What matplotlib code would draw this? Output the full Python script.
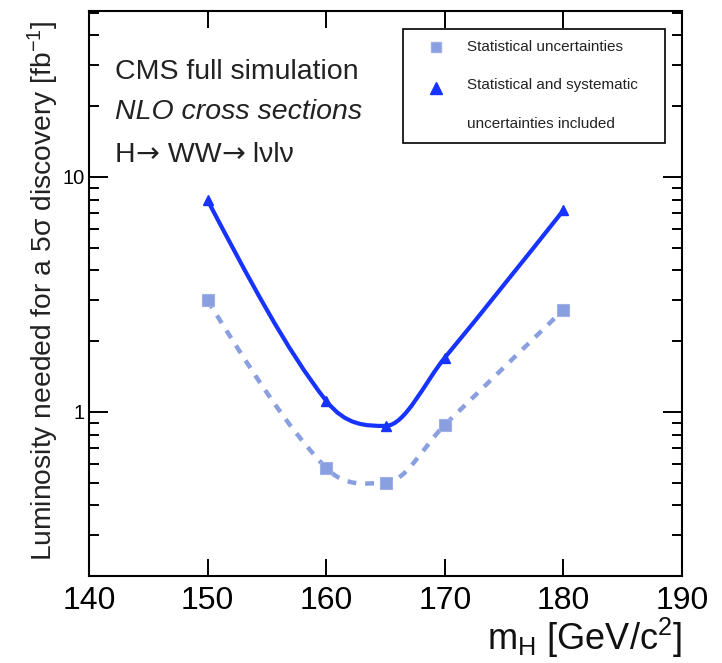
import numpy as np
import matplotlib
matplotlib.use("Agg")
import matplotlib.pyplot as plt
from matplotlib.path import Path
from matplotlib.patches import PathPatch, Rectangle
from matplotlib.ticker import FixedLocator, NullFormatter, FixedFormatter, NullLocator
from matplotlib.offsetbox import TextArea, HPacker, AnnotationBbox

plt.rcParams['font.family'] = ['Liberation Sans', 'DejaVu Sans']
plt.rcParams['mathtext.fontset'] = 'custom'
plt.rcParams['mathtext.rm'] = 'Liberation Sans'
plt.rcParams['mathtext.it'] = 'Liberation Sans:italic'

# ---- data ----
mass = [150, 160, 165, 170, 180]
lumi_stat = [2.98, 0.577, 0.498, 0.88, 2.72]
lumi_syst = [7.95, 1.114, 0.871, 1.70, 7.21]
xticks = [140, 150, 160, 170, 180, 190]
yticks = [1, 10]
ytick_labels = ["1", "10"]

label_stat = "Statistical uncertainties"
label_syst_1 = "Statistical and systematic"
label_syst_2 = "uncertainties included"

col_syst = '#1633ff'
col_stat = '#8a9fe0'


def smooth_path(xs, ys):
    """Cubic Bezier path through the points, built in (x, log10 y)."""
    x = np.asarray(xs, float)
    ly = np.log10(np.asarray(ys, float))
    n = len(x)
    d = np.diff(ly) / np.diff(x)
    m = np.zeros(n)
    for i in range(1, n - 1):
        if d[i - 1] * d[i] <= 0:
            m[i] = 0.0
        else:
            m[i] = (ly[i + 1] - ly[i - 1]) / (x[i + 1] - x[i - 1])
    m[0] = (3 * d[0] - m[1]) / 2
    m[-1] = (3 * d[-1] - m[-2]) / 2
    verts = [(x[0], ly[0])]
    codes = [Path.MOVETO]
    for i in range(n - 1):
        h = x[i + 1] - x[i]
        verts += [(x[i] + h / 3, ly[i] + m[i] * h / 3),
                  (x[i + 1] - h / 3, ly[i + 1] - m[i + 1] * h / 3),
                  (x[i + 1], ly[i + 1])]
        codes += [Path.CURVE4] * 3
    verts = np.array(verts)
    verts[:, 1] = 10 ** verts[:, 1]
    return Path(verts, codes)


fig = plt.figure(figsize=(7.22, 6.63), dpi=100)
ax = fig.add_axes([89 / 722, 1 - 576 / 663, (682 - 89) / 722, (576 - 10.7) / 663])
ax.set_yscale('log')
ax.set_xlim(140, 190)
ax.set_ylim(0.2, 51)

# curves
ax.add_patch(PathPatch(smooth_path(mass, lumi_stat), fill=False, edgecolor=col_stat,
                       lw=3.2, linestyle=(0, (2.0, 2.0)), capstyle='butt', zorder=2))
ax.add_patch(PathPatch(smooth_path(mass, lumi_syst), fill=False, edgecolor=col_syst,
                       lw=3.0, zorder=3))
ax.plot(mass, lumi_stat, ls='none', marker='s', ms=8, mfc=col_stat, mec='#9fb0e6', mew=0.8, zorder=4)
ax.plot(mass, lumi_syst, ls='none', marker='^', ms=7.5, mfc=col_syst, mec=col_syst, zorder=5)

# axes styling
for s in ax.spines.values():
    s.set_linewidth(1.5)
ax.xaxis.set_major_locator(FixedLocator(xticks))
ax.xaxis.set_minor_locator(NullLocator())
ax.yaxis.set_major_locator(FixedLocator(yticks))
ax.yaxis.set_major_formatter(FixedFormatter(ytick_labels))
minor = [v * d for d in (0.1, 1, 10) for v in range(2, 10)]
ax.yaxis.set_minor_locator(FixedLocator(minor))
ax.yaxis.set_minor_formatter(NullFormatter())
ax.tick_params(axis='x', which='major', direction='in', top=True, length=12.5, width=1.4,
               labelsize=23, pad=7)
ax.tick_params(axis='y', which='major', direction='in', right=True, length=13.5, width=1.4,
               labelsize=14.5, pad=3)
ax.tick_params(axis='y', which='minor', direction='in', right=True, length=7.5, width=1.4)

fig.text(43 / 722, 1 - 291 / 663, "Luminosity needed for a 5\u03c3 discovery [fb$^{-1}$]",
         rotation=90, ha='center', va='center', fontsize=20.3, color='#222222')
fig.text(682 / 722, 1 - 650 / 663, r"m$_\mathrm{H}$ [GeV/c$^2$]", ha='right', va='baseline',
         fontsize=26, color='#111111')

# annotation text
x_txt = (115 - 89) / 593
ax.text(x_txt, 1 - (79 - 10.7) / 565.3, "CMS full simulation",
        transform=ax.transAxes, fontsize=20.5, va='baseline', color='#222222')
ax.text(x_txt, 1 - (119 - 10.7) / 565.3, "NLO cross sections",
        transform=ax.transAxes, fontsize=20.5, va='baseline', style='italic', color='#222222')

tp = dict(fontsize=20.5, color='#222222', family='Liberation Sans')
ta = dict(fontsize=20.5, color='#222222', family='DejaVu Sans')
parts = [TextArea("H", textprops=tp), TextArea("\u2192", textprops=ta),
         TextArea(" WW", textprops=tp), TextArea("\u2192", textprops=ta),
         TextArea(" l\u03bdl\u03bd", textprops=tp)]
box = HPacker(children=parts, align='baseline', pad=0, sep=0)
ab = AnnotationBbox(box, (x_txt, 1 - (168 - 10.7) / 565.3), xycoords='axes fraction',
                    box_alignment=(0, 0), frameon=False, pad=0)
ax.add_artist(ab)

# legend (manual box)
ax.add_patch(Rectangle((0.5295, 0.766), 0.9713 - 0.5295, 0.9676 - 0.766, transform=ax.transAxes,
                       fill=True, facecolor='white', edgecolor='black', lw=1.2, zorder=6))
ax.plot([0.585], [0.9358], transform=ax.transAxes, ls='none', marker='s', ms=6.5,
        mfc=col_stat, mec='#9fb0e6', zorder=7)
ax.plot([0.585], [0.8633], transform=ax.transAxes, ls='none', marker='^', ms=8,
        mfc=col_syst, mec=col_syst, zorder=7)
for yy, t in [(0.936, label_stat), (0.8686, label_syst_1), (0.7996, label_syst_2)]:
    ax.text(0.6374, yy, t, transform=ax.transAxes, fontsize=11, va='center', zorder=7,
            color='#222222')

fig.savefig("out.png", dpi=100)
